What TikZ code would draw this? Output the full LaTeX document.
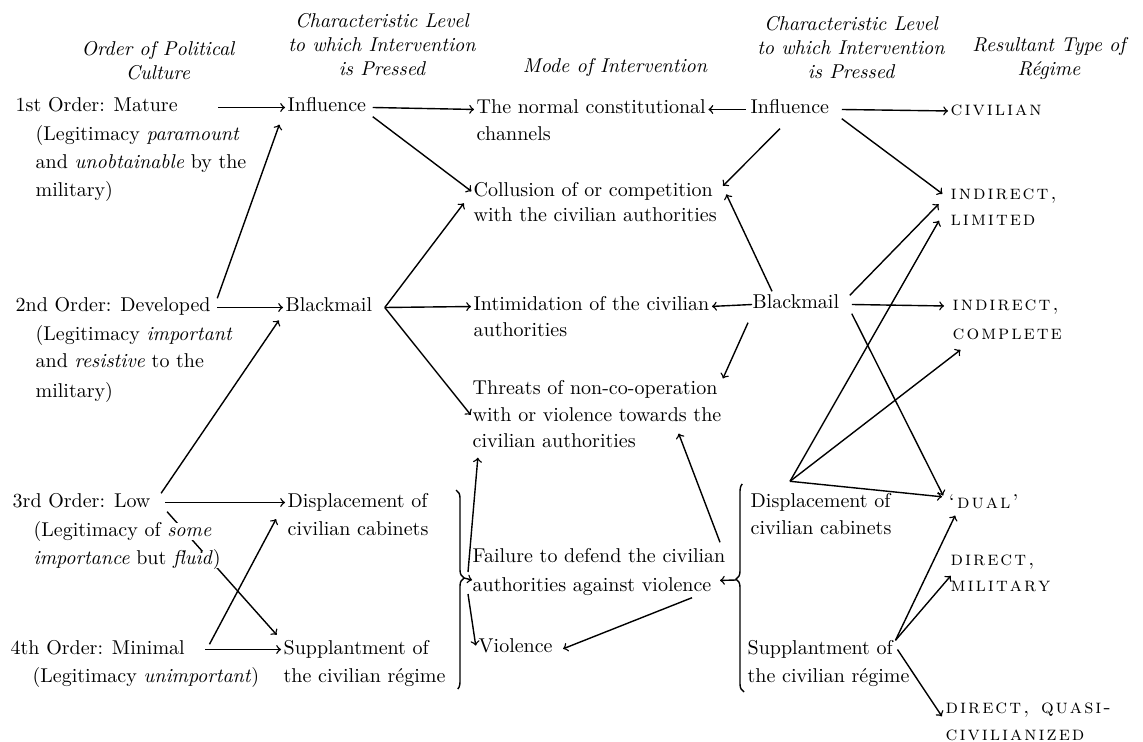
\documentclass[tikz,border=0pt]{standalone}
\usepackage{tikz}
\usetikzlibrary{arrows, positioning, backgrounds, decorations.pathreplacing}

% letter-spaced small capitals for the regime types
\def\lsploop#1{\ifx\relax#1\else#1\kern1pt\expandafter\lsploop\fi}
\newcommand{\lsp}[1]{\lsploop#1\relax}

\tikzset{
  txt/.style={anchor=base west, inner sep=0pt, text height=6.5pt, text depth=2pt},
  head/.style={align=center, inner sep=0pt, font=\itshape},
  reg/.style={anchor=base west, inner sep=0pt, text height=5pt, text depth=0pt, font=\scshape},
  brc/.style={-, decorate, decoration={brace, amplitude=4pt, aspect=#1}},
}

\begin{document}
\begin{tikzpicture}[x=0.5pt, y=-0.5pt, ->, >=to, line width=0.7pt, shorten >=1pt]
    \useasboundingbox (0,0) rectangle (1143,742);

    % headings
    \node[head] (hdOrder)  at (158,61) {Order of Political\\Culture};
    \node[head] (hdLevelL) at (382,45) {Characteristic Level\\to which Intervention\\is Pressed};
    \node[head] (hdMode)   at (615,68) {Mode of Intervention};
    \node[head] (hdLevelR) at (851,48) {Characteristic Level\\to which Intervention\\is Pressed};
    \node[head] (hdRegime) at (1049,59) {Resultant Type of\\R\'egime};

    % order of political culture
    \node[txt] (o1)  at (15,112) {1st Order: Mature};
    \node[txt] (o1a) at (35,141) {(Legitimacy \emph{paramount}};
    \node[txt] (o1b) at (35,169) {and \emph{unobtainable} by the};
    \node[txt] (o1c) at (35,197) {military)};
    \node[txt] (o2)  at (15,312) {2nd Order: Developed};
    \node[txt] (o2a) at (35,341) {(Legitimacy \emph{important}};
    \node[txt] (o2b) at (35,367) {and \emph{resistive} to the};
    \node[txt] (o2c) at (35,397) {military)};
    \node[txt] (o3)  at (12,507) {3rd Order: Low};
    \node[txt, fill=white] (o3a) at (33,536) {(Legitimacy of \emph{some}};
    \node[txt, fill=white] (o3b) at (33,564) {\emph{importance} but \emph{fluid})};
    \node[txt] (o4)  at (10,654) {4th Order: Minimal};
    \node[txt] (o4a) at (32,682) {(Legitimacy \emph{unimportant})};

    % level, left
    \node[txt] (infL)  at (287,112) {Influence};
    \node[txt] (blkL)  at (285,312) {Blackmail};
    \node[txt] (dspL)  at (287,507) {Displacement of};
    \node[txt] (dspLb) at (287,535) {civilian cabinets};
    \node[txt] (supL)  at (283,654) {Supplantment of};
    \node[txt] (supLb) at (283,682) {the civilian r\'egime};

    % mode of intervention
    \node[txt] (norm)  at (476,114) {The normal constitutional};
    \node[txt] (normb) at (476,141) {channels};
    \node[txt] (coll)  at (473,197) {Collusion of or competition};
    \node[txt] (collb) at (473,222) {with the civilian authorities};
    \node[txt] (intm)  at (473,311) {Intimidation of the civilian};
    \node[txt] (intmb) at (473,337) {authorities};
    \node[txt] (thrt)  at (472,394) {Threats of non-co-operation};
    \node[txt] (thrtb) at (472,421) {with or violence towards the};
    \node[txt] (thrtc) at (472,447) {civilian authorities};
    \node[txt] (fail)  at (472,562) {Failure to defend the civilian};
    \node[txt] (failb) at (472,591) {authorities against violence};
    \node[txt] (viol)  at (478,652) {Violence};

    % level, right
    \node[txt] (infR)  at (750,114) {Influence};
    \node[txt] (blkR)  at (752,309) {Blackmail};
    \node[txt] (dspR)  at (750,507) {Displacement of};
    \node[txt] (dspRb) at (750,534) {civilian cabinets};
    \node[txt] (supR)  at (747,654) {Supplantment of};
    \node[txt] (supRb) at (747,682) {the civilian r\'egime};

    % resultant regimes
    \node[reg] (civ)     at (950,116) {\lsp{civilian}};
    \node[reg] (inlim)   at (950,200) {\lsp{indirect,}};
    \node[reg] (inlimb)  at (950,226) {\lsp{limited}};
    \node[reg] (incom)   at (952,311) {\lsp{indirect,}};
    \node[reg] (incomb)  at (952,340) {\lsp{complete}};
    \node[reg] (dual)    at (948,508) {\lsp{`dual'}};
    \node[reg] (dmil)    at (950,565) {\lsp{direct,}};
    \node[reg] (dmilb)   at (950,591) {\lsp{military}};
    \node[reg] (dquasi)  at (945,713) {\lsp{direct,~quasi-}};
    \node[reg] (dquasib) at (945,740) {\lsp{civilianized}};

    % braces
    \coordinate (lbTop) at (456,490);
    \coordinate (lbBot) at (456,690);
    \coordinate (lbTip) at (464,578);
    \coordinate (rbTop) at (744,483);
    \coordinate (rbBot) at (744,692);
    \coordinate (rbTip) at (736,580);
    \draw[brc=0.44] (lbTop) -- (lbBot);
    \draw[brc=0.54] (rbBot) -- (rbTop);

    \coordinate (blkLfan) at ([xshift=6pt]blkL.east);
    \coordinate (dspRtop) at ([xshift=20pt,yshift=6pt]dspR.north west);

    \path   ([xshift=20pt]o1.east) edge (infL.west)
            ([xshift=3pt]o2.north east) edge ([xshift=-3.5pt,yshift=-3pt]infL.south west)
            ([xshift=3pt]o2.east) edge (blkL.west)
            ([xshift=5pt]o3.north east) edge ([xshift=-2.5pt,yshift=-1pt]blkL.south west)
            ([xshift=7pt]o3.east) edge (dspL.west)
            ([xshift=12pt,yshift=-2pt]o4.north east) edge ([xshift=-5pt,yshift=2pt]dspLb.north west)
            ([xshift=10pt]o4.east) edge (supL.west)
    ;
    \begin{scope}[on background layer]
        \draw[line width=0.7pt] ([xshift=8pt]o3.south east) -- ([xshift=-2.5pt,yshift=2pt]supL.north west);
    \end{scope}

    \path   ([xshift=3pt]infL.east) edge (norm.west)
            ([xshift=3pt]infL.south east) edge (coll.west)
            (blkLfan) edge ([xshift=-4pt]coll.south west)
            (blkLfan) edge (intm.west)
            (blkLfan) edge (thrtb.west)
            (infR.west) edge [shorten <=2pt] (norm.east)
            ([xshift=15pt,yshift=-5pt]infR.south west) edge ([xshift=4pt,yshift=-2pt]coll.north east)
            ([xshift=10pt,yshift=2pt]blkR.north west) edge ([xshift=6pt]coll.east)
            (blkR.west) edge (intm.east)
            ([xshift=-2pt,yshift=-4.5pt]blkR.south west) edge ([xshift=2pt]thrt.north east)
            ([xshift=-3pt,yshift=3pt]fail.north east) edge ([xshift=-22pt,yshift=-3pt]thrtb.south east)
            ([xshift=-10pt,yshift=-1pt]failb.south east) edge ([xshift=4pt,yshift=-1pt]viol.east)
    ;

    \path   (lbTip) edge ([xshift=1pt,yshift=3pt]failb.west)
            ([xshift=2pt,yshift=3pt]lbTip) edge ([xshift=3pt,yshift=-2pt]thrtc.south west)
            ([xshift=2pt,yshift=-8pt]lbTip) edge ([xshift=-1pt]viol.west)
            (rbTip) edge ([xshift=3pt,yshift=3pt]failb.east)
    ;

    \path   ([xshift=6pt]infR.east) edge (civ.west)
            ([xshift=6pt]infR.south east) edge ([xshift=-3pt]inlim.west)
            ([xshift=5pt]blkR.north east) edge ([xshift=-5pt,yshift=-1pt]inlim.south west)
            ([xshift=6pt]blkR.east) edge ([xshift=-3pt]incom.west)
            ([xshift=6pt]blkR.south east) edge ([xshift=-2pt]dual.north west)
            (dspRtop) edge ([xshift=-5pt,yshift=1pt]inlimb.west)
            (dspRtop) edge ([xshift=5pt,yshift=-4pt]incomb.south west)
            (dspRtop) edge ([xshift=-2pt,yshift=3pt]dual.west)
            ([xshift=1pt]supR.north east) edge ([xshift=4pt,yshift=-2.5pt]dual.south west)
            ([xshift=1pt]supR.north east) edge ([xshift=1pt,yshift=3pt]dmilb.north west)
            ([xshift=2pt]supR.east) edge ([xshift=-1pt,yshift=-5pt]dquasi.west)
    ;
\end{tikzpicture}
\end{document}
